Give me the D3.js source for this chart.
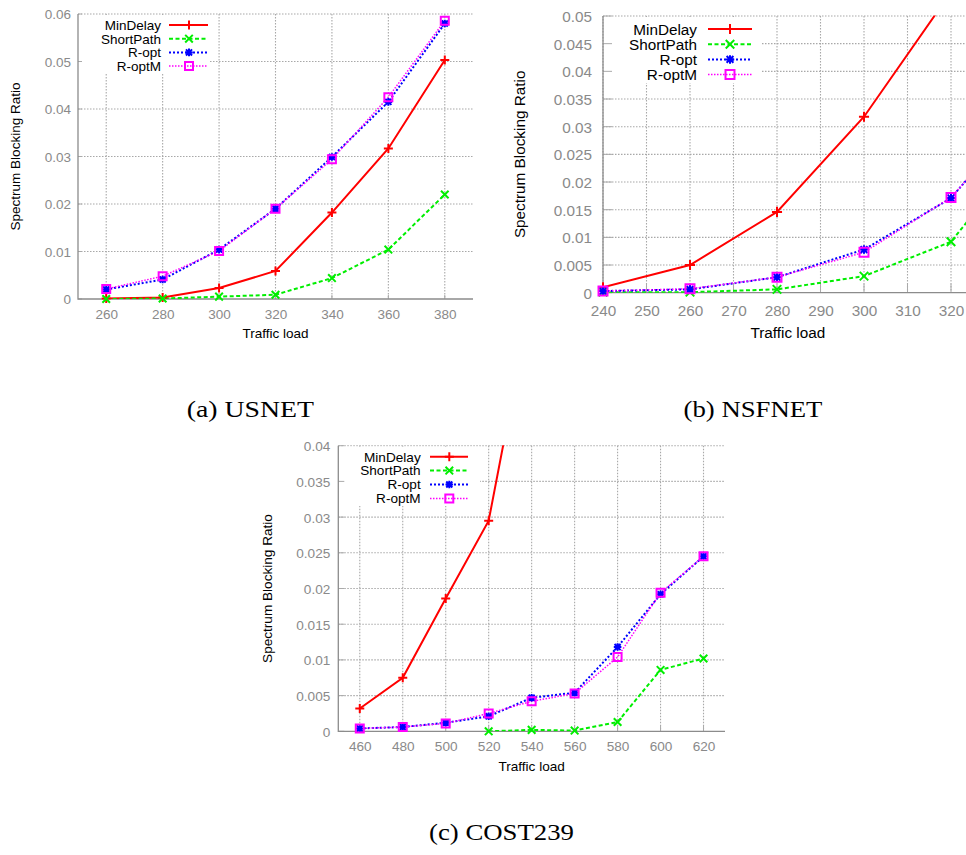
<!DOCTYPE html>
<html>
<head>
<meta charset="utf-8">
<script src="https://cdn.jsdelivr.net/npm/d3@7"></script>
<style>
  html, body { margin: 0; padding: 0; background: #fff; }
  svg { display: block; }
</style>
</head>
<body>
<svg id="chart" width="966" height="855"></svg>
<script>
// ---------------- DATA ----------------
const seriesNames = ["MinDelay", "ShortPath", "R-opt", "R-optM"];

// (a) USNET
const usnetLoads      = [260, 280, 300, 320, 340, 360, 380];
const usnetMinDelay   = [0.0001, 0.0003, 0.0023, 0.0059, 0.0182, 0.0317, 0.0503];
const usnetShortPath  = [0.0000, 0.0001, 0.0005, 0.0009, 0.0044, 0.0104, 0.0220];
const usnetRopt       = [0.0020, 0.0041, 0.0104, 0.0190, 0.0299, 0.0415, 0.0580];
const usnetRoptM      = [0.0021, 0.0048, 0.0101, 0.0190, 0.0294, 0.0425, 0.0586];
const usnetXTicks     = [260, 280, 300, 320, 340, 360, 380];
const usnetYTicks     = [0, 0.01, 0.02, 0.03, 0.04, 0.05, 0.06];

// (b) NSFNET
const nsfLoads        = [240, 260, 280, 300, 320, 340];
const nsfMinDelay     = [0.0010, 0.0050, 0.0146, 0.0318, 0.0543, 0.0800];
const nsfShortPath    = [0.0001, 0.0001, 0.0006, 0.0030, 0.0092, 0.0288];
const nsfRopt         = [0.0003, 0.0006, 0.0028, 0.0078, 0.0171, 0.0353];
const nsfRoptM        = [0.0003, 0.0007, 0.0028, 0.0073, 0.0172, 0.0350];
const nsfXTicks       = [240, 250, 260, 270, 280, 290, 300, 310, 320];
const nsfYTicks       = [0, 0.005, 0.01, 0.015, 0.02, 0.025, 0.03, 0.035, 0.04, 0.045, 0.05];

// (c) COST239
const costLoads       = [460, 480, 500, 520, 540, 560, 580, 600, 620];
const costMinDelay    = [0.0032, 0.0075, 0.0186, 0.0295, 0.0608, null, null, null, null];
const costShortPath   = [null, null, null, 0.0000, 0.0002, 0.0001, 0.0013, 0.0086, 0.0102];
const costRopt        = [0.0004, 0.0006, 0.0012, 0.0021, 0.0047, 0.0054, 0.0118, 0.0192, 0.0245];
const costRoptM       = [0.0004, 0.0006, 0.0011, 0.0025, 0.0042, 0.0053, 0.0104, 0.0194, 0.0245];
const costXTicks      = [460, 480, 500, 520, 540, 560, 580, 600, 620];
const costYTicks      = [0, 0.005, 0.01, 0.015, 0.02, 0.025, 0.03, 0.035, 0.04];

const captions = ["(a) USNET", "(b) NSFNET", "(c) COST239"];

// ---------------- STYLE / LAYOUT ----------------
const styles = [
  { color: "#ff0000", dash: null,      width: 2,   marker: "plus" },
  { color: "#00ee00", dash: "4,2.5",   width: 2,   marker: "cross" },
  { color: "#0000ff", dash: "2,2",     width: 2,   marker: "star" },
  { color: "#ff00ff", dash: "1.5,1.5", width: 1.5, marker: "square" }
];

const panels = [
  { loads: usnetLoads, series: [usnetMinDelay, usnetShortPath, usnetRopt, usnetRoptM],
    xTicks: usnetXTicks, yTicks: usnetYTicks, xDom: [250, 390], yDom: [0, 0.06],
    L: 78, R: 473, T: 14, B: 299, fs: 13.5, ms: 1,
    ytitleX: 15, xlabelDy: 39, yLabGap: 7, xLabDy: 19.5, tick: 4,
    leg: { textX: 161, y0: 25, dy: 13.7, x1: 169, x2: 208, mx: 189, boxR: 209, boxB: 73 },
    caption: { x: 250.3, y: 416.7, size: 24, len: 127.3 } },
  { loads: nsfLoads, series: [nsfMinDelay, nsfShortPath, nsfRopt, nsfRoptM],
    xTicks: nsfXTicks, yTicks: nsfYTicks, xDom: [240, 325], yDom: [0, 0.05],
    L: 603, R: 972.75, T: 16, B: 292.7, fs: 15.3, ms: 1.12,
    ytitleX: 519, xlabelDy: 45, yLabGap: 11, xLabDy: 23, tick: 9,
    leg: { textX: 697, y0: 29, dy: 15.2, x1: 708, x2: 752, mx: 730, boxR: 761, boxB: 83 },
    caption: { x: 753, y: 416.7, size: 24, len: 138.8 } },
  { loads: costLoads, series: [costMinDelay, costShortPath, costRopt, costRoptM],
    xTicks: costXTicks, yTicks: costYTicks, xDom: [450, 630], yDom: [0, 0.04],
    L: 338.3, R: 725, T: 445.7, B: 731.3, fs: 13.6, ms: 1,
    ytitleX: 267, xlabelDy: 39.5, yLabGap: 8, xLabDy: 20, tick: 6,
    leg: { textX: 420.7, y0: 456.7, dy: 13.9, x1: 430, x2: 468, mx: 449.3, boxR: 480, boxB: 506 },
    caption: { x: 501.5, y: 840, size: 24, len: 145 } }
];

const fmt = v => v === 0 ? "0" : String(+v.toFixed(4));

function markerPath(type, s) {
  if (type === "plus")  return `M${-s},0H${s}M0,${-s}V${s}`;
  if (type === "cross") return `M${-s},${-s}L${s},${s}M${-s},${s}L${s},${-s}`;
  if (type === "star")  return `M${-s},0H${s}M0,${-s}V${s}M${-s*0.8},${-s*0.8}L${s*0.8},${s*0.8}M${-s*0.8},${s*0.8}L${s*0.8},${-s*0.8}`;
  return `M${-s},${-s}H${s}V${s}H${-s}Z`;
}
const markerSize = { plus: 4.5, cross: 3.8, star: 3.8, square: 4 };

const svg = d3.select("#chart");
const FONT = "'Liberation Sans', Arial, Helvetica, sans-serif";

panels.forEach((p, pi) => {
  const g = svg.append("g");
  const x = d3.scaleLinear().domain(p.xDom).range([p.L, p.R]);
  const y = d3.scaleLinear().domain(p.yDom).range([p.B, p.T]);

  // clip
  const cid = "clip" + pi;
  svg.append("defs").append("clipPath").attr("id", cid)
    .append("rect").attr("x", p.L).attr("y", p.T - 0.5)
    .attr("width", p.R - p.L).attr("height", p.B - p.T + 0.5);

  // grid
  const grid = g.append("g").attr("stroke", "#a8a8a8").attr("stroke-width", 1.1)
    .attr("stroke-dasharray", "1.5,1.5");
  p.yTicks.forEach(t => {
    if (t === 0) return;
    grid.append("line").attr("x1", p.L).attr("x2", p.R).attr("y1", y(t)).attr("y2", y(t));
  });
  p.xTicks.forEach(t => {
    grid.append("line").attr("x1", x(t)).attr("x2", x(t)).attr("y1", p.T).attr("y2", p.B);
  });

  // legend background (hides grid)
  g.append("rect").attr("x", p.L + 1).attr("y", p.T + 1)
    .attr("width", p.leg.boxR - p.L - 1).attr("height", p.leg.boxB - p.T - 1)
    .attr("fill", "#fff");

  // tick marks (inward)
  const ticks = g.append("g").attr("stroke", "#aaa").attr("stroke-width", 1);
  p.yTicks.forEach(t => {
    ticks.append("line").attr("x1", p.L).attr("x2", p.L + p.tick).attr("y1", y(t)).attr("y2", y(t));
  });
  p.xTicks.forEach(t => {
    ticks.append("line").attr("x1", x(t)).attr("x2", x(t)).attr("y1", p.B).attr("y2", p.B - p.tick);
  });

  // axes via d3 (labels only, styled)
  const yAxis = d3.axisLeft(y).tickValues(p.yTicks).tickFormat(fmt).tickSize(0).tickPadding(p.yLabGap);
  const ya = g.append("g").attr("transform", `translate(${p.L},0)`).call(yAxis);
  const xAxis = d3.axisBottom(x).tickValues(p.xTicks).tickFormat(d3.format("d")).tickSize(0).tickPadding(0);
  const xa = g.append("g").attr("transform", `translate(0,${p.B})`).call(xAxis);
  [ya, xa].forEach(a => {
    a.select(".domain").remove();
    a.selectAll("text").attr("fill", "#8a8a8a").attr("font-size", p.fs).attr("font-family", FONT);
  });
  xa.selectAll("text").attr("dy", null).attr("y", p.xLabDy);
  ya.selectAll("text").attr("dy", "0.36em");

  // border (left & bottom)
  g.append("path").attr("d", `M${p.L},${p.T}V${p.B}H${p.R}`)
    .attr("fill", "none").attr("stroke", "#8c8c8c").attr("stroke-width", 1.3);

  // series
  const plot = g.append("g").attr("clip-path", `url(#${cid})`);
  p.series.forEach((vals, si) => {
    const st = styles[si];
    const pts = p.loads.map((l, i) => ({ l, v: vals[i] })).filter(d => d.v !== null);
    const line = d3.line().x(d => x(d.l)).y(d => y(d.v));
    plot.append("path").attr("d", line(pts)).attr("fill", "none")
      .attr("stroke", st.color).attr("stroke-width", st.width)
      .attr("stroke-dasharray", st.dash);
  });
  const mk = g.append("g");
  p.series.forEach((vals, si) => {
    const st = styles[si];
    p.loads.forEach((l, i) => {
      const v = vals[i];
      if (v === null || v > p.yDom[1] || l > p.xDom[1]) return;
      mk.append("path").attr("d", markerPath(st.marker, markerSize[st.marker] * p.ms))
        .attr("transform", `translate(${x(l)},${y(v)})`)
        .attr("fill", "none").attr("stroke", st.color).attr("stroke-width", 2);
    });
  });

  // legend
  seriesNames.forEach((name, si) => {
    const st = styles[si];
    const ly = p.leg.y0 + si * p.leg.dy;
    g.append("text").attr("x", p.leg.textX).attr("y", ly).attr("dy", "0.36em")
      .attr("text-anchor", "end").attr("font-size", p.fs).attr("font-family", FONT)
      .attr("fill", "#000").text(name);
    g.append("line").attr("x1", p.leg.x1).attr("x2", p.leg.x2).attr("y1", ly).attr("y2", ly)
      .attr("stroke", st.color).attr("stroke-width", st.width).attr("stroke-dasharray", st.dash);
    g.append("path").attr("d", markerPath(st.marker, markerSize[st.marker] * p.ms))
      .attr("transform", `translate(${p.leg.mx},${ly})`)
      .attr("fill", "none").attr("stroke", st.color).attr("stroke-width", 2);
  });

  // axis titles
  g.append("text").attr("transform", `translate(${p.ytitleX},${(p.T + p.B) / 2}) rotate(-90)`)
    .attr("text-anchor", "middle").attr("dy", "0.36em")
    .attr("font-size", p.fs).attr("font-family", FONT).attr("fill", "#000")
    .text("Spectrum Blocking Ratio");
  g.append("text").attr("x", (p.L + p.R) / 2).attr("y", p.B + p.xlabelDy)
    .attr("text-anchor", "middle").attr("font-size", p.fs).attr("font-family", FONT)
    .attr("fill", "#000").text("Traffic load");

  // caption
  svg.append("text").attr("x", p.caption.x - p.caption.len / 2).attr("y", p.caption.y)
    .attr("font-size", p.caption.size)
    .attr("textLength", p.caption.len).attr("lengthAdjust", "spacingAndGlyphs")
    .attr("font-family", "'Liberation Serif', 'DejaVu Serif', serif").attr("fill", "#000")
    .text(captions[pi]);
});
</script>
</body>
</html>
